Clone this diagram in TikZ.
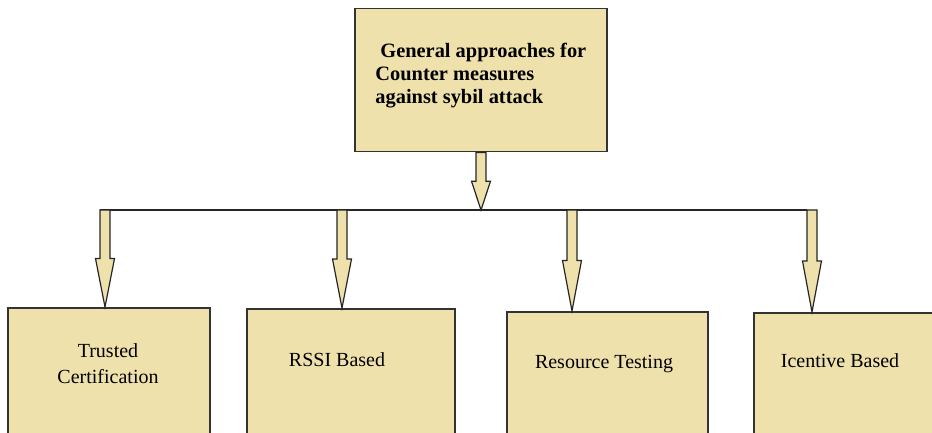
\documentclass[tikz,border=0pt]{standalone}
\usepackage{fontspec}
\setmainfont{Liberation Serif}
\usetikzlibrary{calc}

\definecolor{boxtan}{RGB}{239,225,172}
\newcommand{\Shaft}{2.5pt}
\newcommand{\Head}{4.75pt}
\newcommand{\BlockArrow}[2]{%
  \draw[blockarrow] let \p1=#1, \p2=#2, \n1={0.5*(\y1+\y2)} in
    (\x1-\Shaft,\y1) -- (\x1-\Shaft,{\n1*1pt}) -- (\x1-\Head,{\n1*1pt}) -- (\x2,\y2)
    -- (\x1+\Head,{\n1*1pt}) -- (\x1+\Shaft,{\n1*1pt}) -- (\x1+\Shaft,\y1) -- cycle;}

\begin{document}
\begin{tikzpicture}[x=0.5pt,y=-0.5pt,
    box/.style={draw=black!80, line width=0.75pt, fill=boxtan, anchor=north,
      inner sep=0pt, minimum height=66pt},
    blockarrow/.style={draw=black!85, line width=0.6pt, fill=boxtan},
    busline/.style={draw=black!85, line width=0.75pt},
    lbl/.style={inner sep=0pt, font=\fontsize{10}{13}\selectfont, align=center}]
        \useasboundingbox (0,0) rectangle (932,433);
        \clip (0,0) rectangle (932,433);

        \node[box, minimum width=126pt, minimum height=71.5pt] (top) at (481,8) {};
        \node[box, minimum width=101pt] (b1) at (109,307) {};
        \node[box, minimum width=104pt] (b2) at (351,308) {};
        \node[box, minimum width=100.5pt] (b3) at (607.5,311) {};
        \node[box, minimum width=96pt] (b4) at (850,312) {};

        \node[lbl, font=\bfseries\fontsize{10.2}{11.5}\selectfont, align=left, anchor=north west]
            (topText) at (375,43) {\hspace{2.5pt}General approaches for\\Counter measures\\against sybil attack};
        \node[lbl, anchor=north] (t1) at (108,343.5) {Trusted\\Certification};
        \node[lbl, anchor=base] (t2) at (337,366) {RSSI Based};
        \node[lbl, anchor=base] (t3) at (604,368) {Resource Testing};
        \node[lbl, anchor=base] (t4) at (840,367) {Icentive Based};

        \coordinate (bus) at (481,210);
        \coordinate (j1) at (105,210);
        \coordinate (j2) at (342,210);
        \coordinate (j3) at (572,210);
        \coordinate (j4) at (812,210);

        \draw[busline] ([xshift=-\Shaft]j1) -- ([xshift=-\Shaft]j4);% Bus

        \BlockArrow{(top.south)}{(bus)}% Down from the top box
        \BlockArrow{(j1)}{(j1 |- b1.north)}
        \BlockArrow{(j2)}{(j2 |- b2.north)}
        \BlockArrow{(j3)}{(j3 |- b3.north)}
        \BlockArrow{(j4)}{(j4 |- b4.north)}
    \end{tikzpicture}
\end{document}
